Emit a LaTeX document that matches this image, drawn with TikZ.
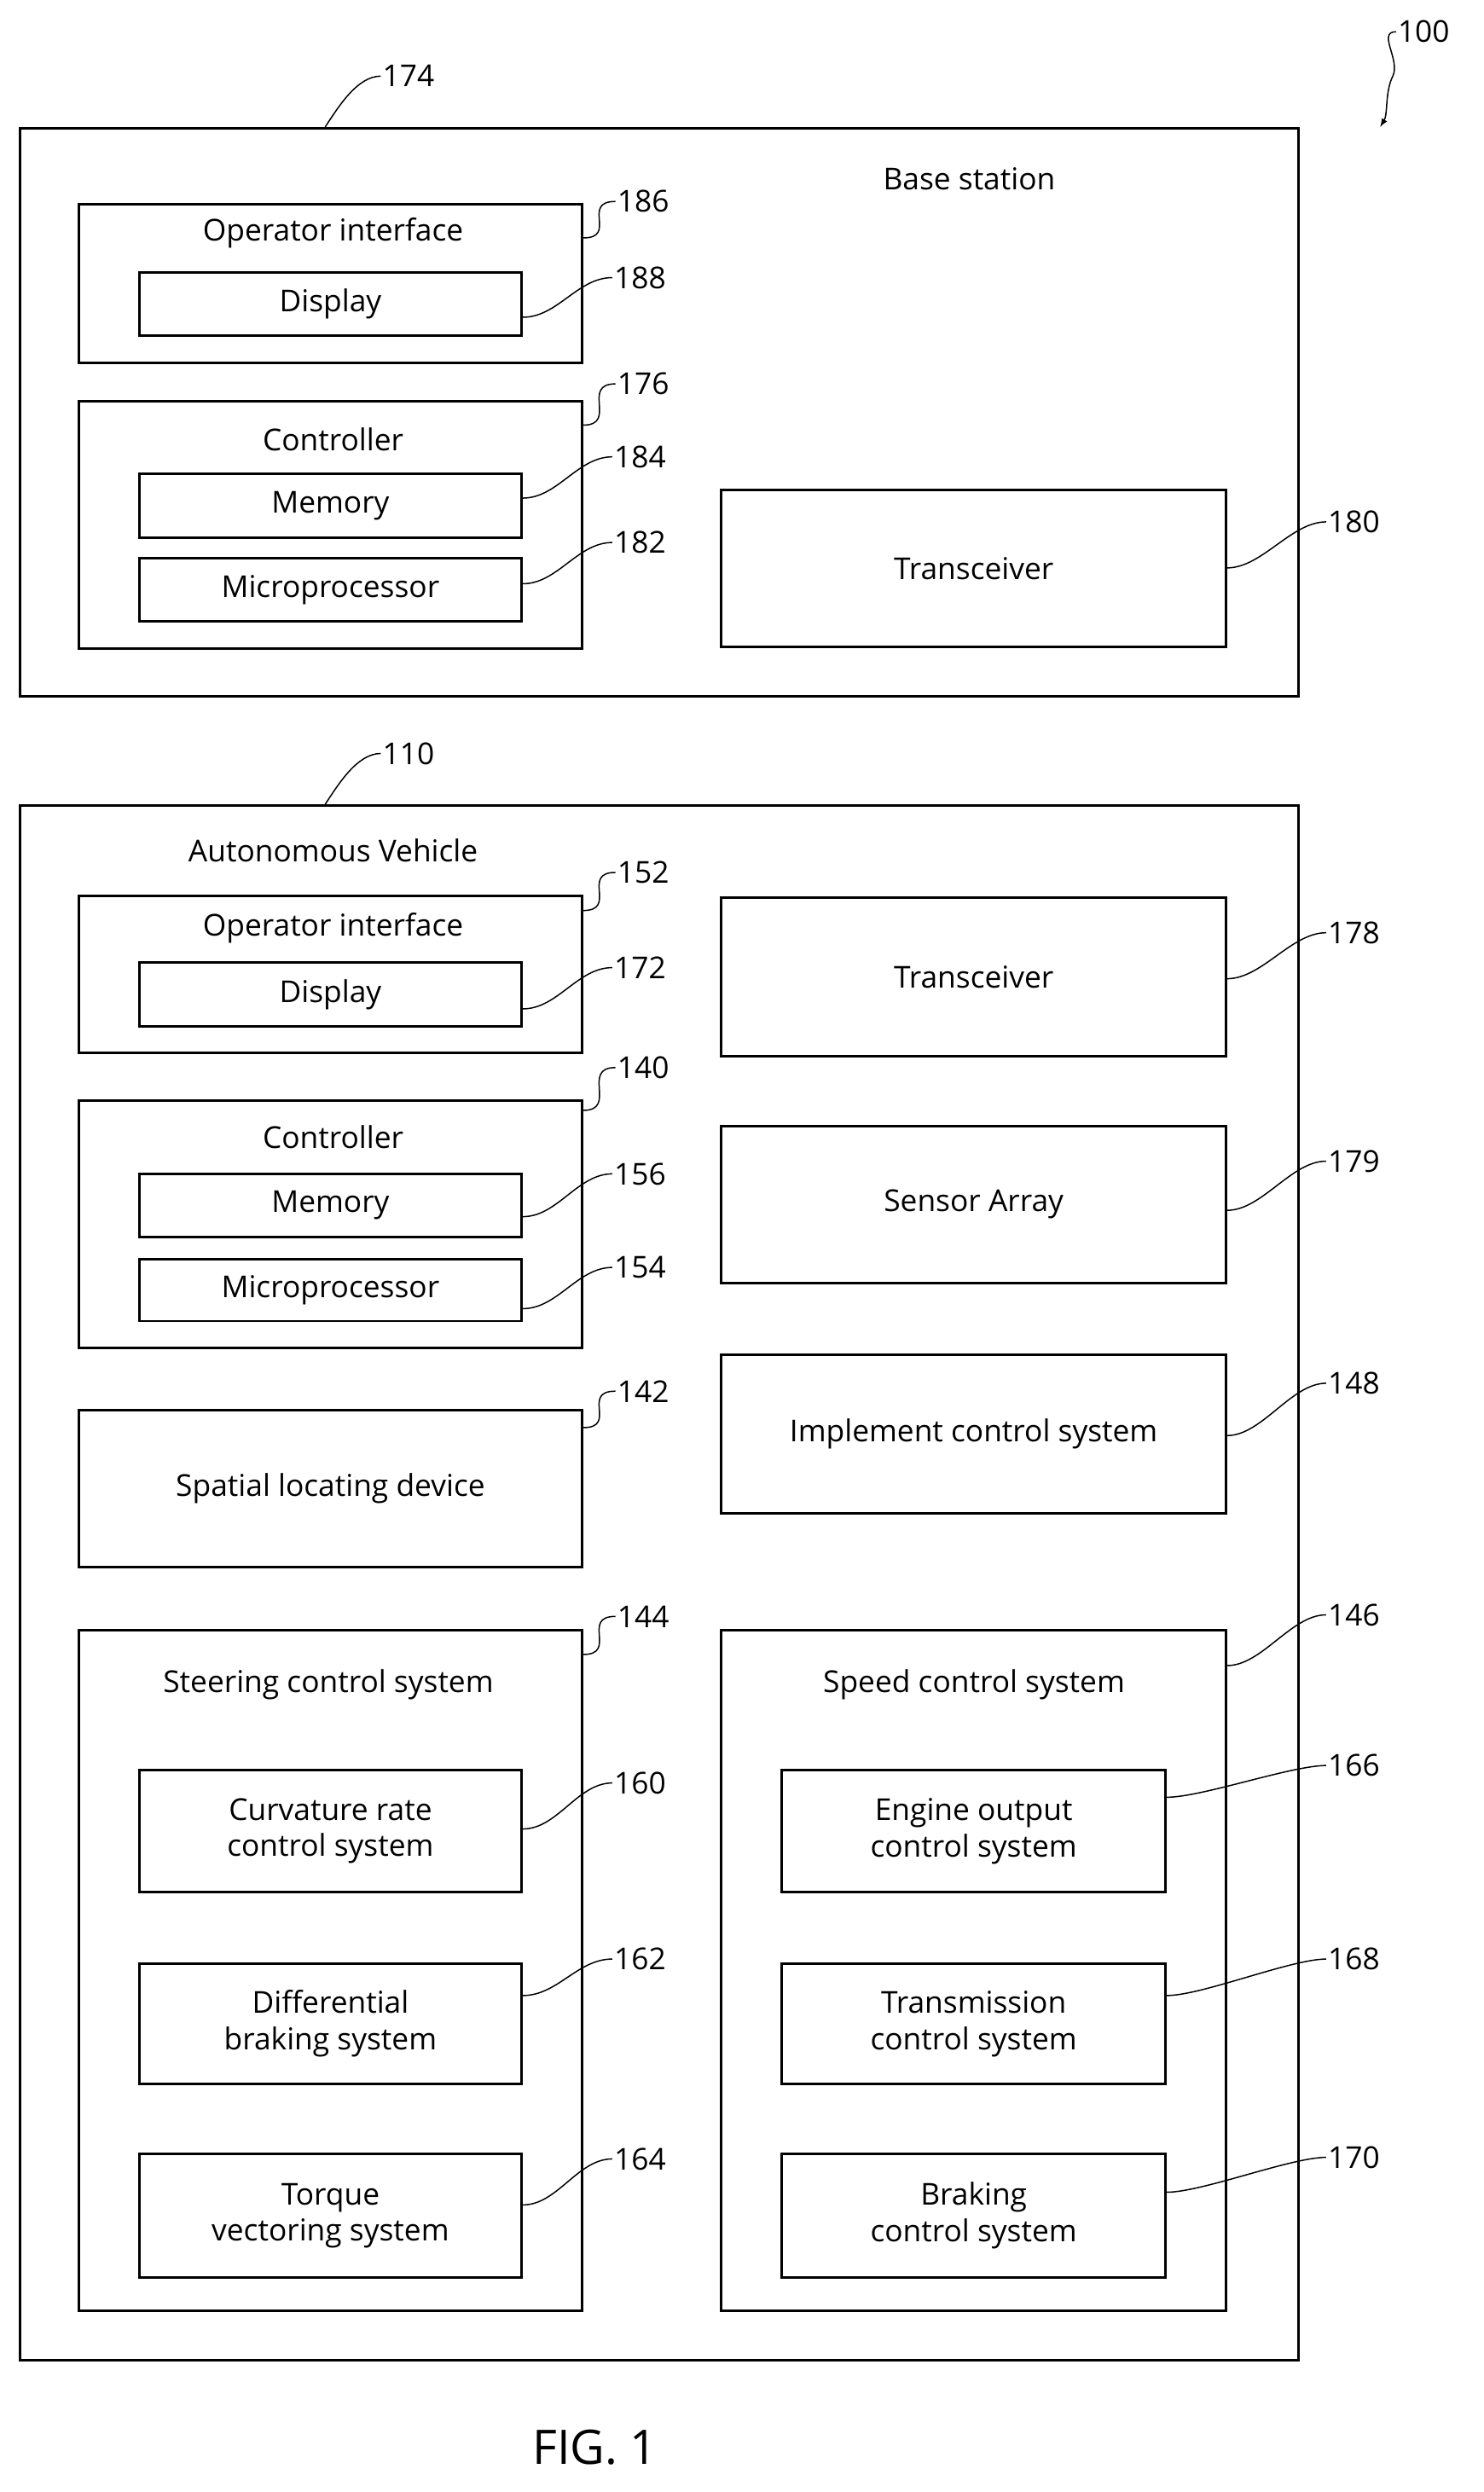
\documentclass[tikz,border=0pt]{standalone}
\usepackage{fontspec}
\setmainfont{Open Sans}
\usetikzlibrary{positioning}
\tikzset{
  box/.style={draw,line width=1.6pt,inner sep=0pt},
  lbl/.style={font=\fontsize{19}{23}\selectfont,align=center},
  num/.style={font=\fontsize{19}{23}\selectfont,anchor=west,inner sep=1pt},
  lead/.style={line width=0.8pt}
}
% box from its corners
\newcommand\bx[5]{\node[box,anchor=north west,minimum width={(#4-#2)*1pt},minimum height={(#5-#3)*1pt}] (#1) at (#2,#3) {};}
% reference number with a curved leader
\newcommand\refn[5]{\node[num] (#2) at (#3,#4) {#5};
  \draw[lead] (#1) .. controls +(22,0) and +(-22,0) .. (#2.west);}
\begin{document}
\begin{tikzpicture}[x=1pt,y=-1pt]
\useasboundingbox (0,0) rectangle (935,1571);
\fontsize{19}{23}\selectfont
% base station
\bx{base}{12}{80}{818}{438}
\node[lbl] (basett) at (611,113) {Base station};
\bx{bop}{49}{128}{366}{228}
\node[lbl] (boptt) at (210,147) {Operator interface};
\bx{bdisp}{87}{171}{328}{211}
\node[lbl] at (bdisp) {Display};
\bx{bctl}{49}{252}{366}{408}
\node[lbl] (bctltt) at (210,277) {Controller};
\bx{bmem}{87}{298}{328}{338}
\node[lbl] at (bmem) {Memory};
\bx{bmic}{87}{351}{328}{391}
\node[lbl] at (bmic) {Microprocessor};
\bx{btr}{454}{308}{772}{407}
\node[lbl] at (btr) {Transceiver};
\node[num] (n174) at (240,48) {174};
\draw[lead] (base.north -| 205,0) .. controls +(8,-12) and +(-15,0) .. (n174.west);
\refn{bop.east |- 0,150}{n186}{388}{127}{186}
\refn{bdisp.east |- 0,200}{n188}{386}{175}{188}
\refn{bctl.east |- 0,268}{n176}{388}{242}{176}
\refn{bmem.east |- 0,314}{n184}{386}{288}{184}
\refn{bmic.east |- 0,368}{n182}{386}{342}{182}
\refn{btr.east |- 0,358}{n180}{836}{329}{180}
\node[num] (n100) at (880,20) {100};
\coordinate (a100) at (870,80);
\draw[lead,-latex] (n100.west) .. controls +(-12,0) and +(5,-10) .. (878,48) .. controls +(-5,10) and +(5,-8) .. (a100);
% vehicle
\bx{veh}{12}{507}{818}{1487}
\node[lbl] (vehtt) at (210,536) {Autonomous Vehicle};
\node[num] (n110) at (240,475) {110};
\draw[lead] (veh.north -| 205,0) .. controls +(8,-12) and +(-15,0) .. (n110.west);
\bx{vop}{49}{564}{366}{663}
\node[lbl] (voptt) at (210,585) {Operator interface};
\bx{vdisp}{87}{606}{328}{646}
\node[lbl] at (vdisp) {Display};
\bx{vtr}{454}{565}{772}{665}
\node[lbl] at (vtr) {Transceiver};
\bx{vctl}{49}{693}{366}{849}
\node[lbl] (vctltt) at (210,717) {Controller};
\bx{vmem}{87}{739}{328}{779}
\node[lbl] at (vmem) {Memory};
\bx{vmic}{87}{793}{328}{832}
\node[lbl] at (vmic) {Microprocessor};
\bx{sens}{454}{709}{772}{808}
\node[lbl] at (sens) {Sensor Array};
\bx{spat}{49}{888}{366}{987}
\node[lbl] at (spat) {Spatial locating device};
\bx{impl}{454}{853}{772}{953}
\node[lbl] at (impl) {Implement control system};
\bx{steer}{49}{1027}{366}{1456}
\node[lbl] (steertt) at (207,1062) {Steering control system};
\bx{curv}{87}{1115}{328}{1192}
\node[lbl] at (curv) {Curvature rate\\control system};
\bx{diff}{87}{1237}{328}{1313}
\node[lbl] at (diff) {Differential\\braking system};
\bx{torq}{87}{1357}{328}{1435}
\node[lbl] at (torq) {Torque\\vectoring system};
\bx{speed}{454}{1027}{772}{1456}
\node[lbl] (speedtt) at (614,1062) {Speed control system};
\bx{eng}{492}{1115}{734}{1192}
\node[lbl] at (eng) {Engine output\\control system};
\bx{trans}{492}{1237}{734}{1313}
\node[lbl] at (trans) {Transmission\\control system};
\bx{brak}{492}{1357}{734}{1435}
\node[lbl] at (brak) {Braking\\control system};
\refn{vop.east |- 0,574}{n152}{388}{550}{152}
\refn{vdisp.east |- 0,636}{n172}{386}{610}{172}
\refn{vtr.east |- 0,617}{n178}{836}{588}{178}
\refn{vctl.east |- 0,700}{n140}{388}{673}{140}
\refn{vmem.east |- 0,767}{n156}{386}{740}{156}
\refn{vmic.east |- 0,825}{n154}{386}{799}{154}
\refn{sens.east |- 0,763}{n179}{836}{732}{179}
\refn{spat.east |- 0,900}{n142}{388}{877}{142}
\refn{impl.east |- 0,905}{n148}{836}{872}{148}
\refn{steer.east |- 0,1043}{n144}{388}{1019}{144}
\refn{curv.east |- 0,1153}{n160}{386}{1124}{160}
\refn{diff.east |- 0,1258}{n162}{386}{1235}{162}
\refn{torq.east |- 0,1390}{n164}{386}{1361}{164}
\refn{speed.east |- 0,1050}{n146}{836}{1018}{146}
\refn{eng.east |- 0,1133}{n166}{836}{1113}{166}
\refn{trans.east |- 0,1258}{n168}{836}{1235}{168}
\refn{brak.east |- 0,1382}{n170}{836}{1360}{170}
\node[font=\fontsize{30}{36}\selectfont] (fig) at (375,1543) {FIG. 1};
\end{tikzpicture}
\end{document}
